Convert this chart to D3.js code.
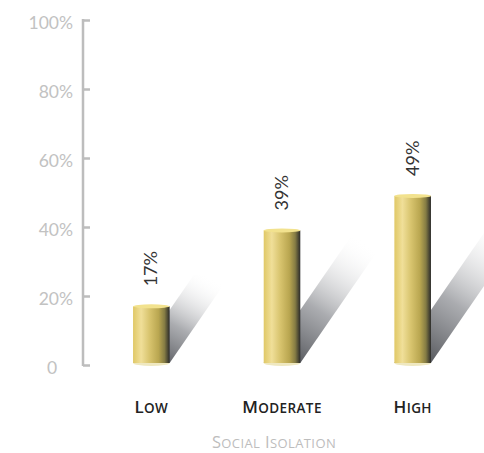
<!DOCTYPE html>
<html>
<head>
<meta charset="utf-8">
<script src="https://cdn.jsdelivr.net/npm/d3@7"></script>
<style>
  body { margin: 0; background: #fff; }
  svg { display: block; font-family: Lato, "Open Sans", sans-serif; }
</style>
</head>
<body>
<svg width="484" height="453"></svg>
<script>
// data
var categories = ["Low", "Moderate", "High"];
var values = [17, 39, 49];
var yTicks = [0, 20, 40, 60, 80, 100];
var axisTitle = "Social Isolation";

var svg = d3.select("svg");

var y = d3.scaleLinear().domain([0, 100]).range([365, 20]);
var x = d3.scaleBand().domain(categories).range([86, 478]).paddingInner(0.72).paddingOuter(0.36);

var barW = x.bandwidth();
var defs = svg.append("defs");

// cylinder body gradient
var body = defs.append("linearGradient").attr("id", "body")
    .attr("x1", 0).attr("x2", 1).attr("y1", 0).attr("y2", 0);
[["0%", "#e0c866"], ["22%", "#f0df99"], ["45%", "#d8c46e"], ["70%", "#b9a650"], ["86%", "#857c44"], ["100%", "#2a2a2a"]]
  .forEach(function(s) { body.append("stop").attr("offset", s[0]).attr("stop-color", s[1]); });

var shadow = defs.append("linearGradient").attr("id", "shadow")
    .attr("x1", 0.1).attr("y1", 1).attr("x2", 0.75).attr("y2", 0);
[["0%", "#44464b", 1], ["45%", "#8e9095", 0.75], ["100%", "#ffffff", 0]]
  .forEach(function(s) {
    shadow.append("stop").attr("offset", s[0]).attr("stop-color", s[1]).attr("stop-opacity", s[2]);
  });

var data = categories.map(function(c, i) { return {cat: c, value: values[i]}; });
var base = y(0) - 2;

// small caps by hand: big first letter of each word, smaller capitals after
function smallCaps(sel, big, small) {
  sel.each(function(d) {
    var t = d3.select(this), words = t.datum().split(" ");
    words.forEach(function(w, i) {
      t.append("tspan").style("font-size", big + "px").text((i ? " " : "") + w[0].toUpperCase());
      t.append("tspan").style("font-size", small + "px").text(w.slice(1).toUpperCase());
    });
  });
}

// shadows cast up and to the right
svg.append("g").selectAll("polygon")
  .data(data)
  .enter().append("polygon")
    .attr("fill", "url(#shadow)")
    .attr("points", function(d) {
      var x0 = x(d.cat), x1 = x0 + barW;
      var dy = 0.5 * (base - y(d.value)) + 60, dx = dy / 1.45;
      return [[x0, base], [x1, base], [x1 + dx, base - dy], [x0 + dx, base - dy]].join(" ");
    });

// y axis
var axis = svg.append("g")
    .attr("transform", "translate(83,0)")
    .call(d3.axisRight(y).tickValues(yTicks).tickSize(7).tickFormat(""));
axis.select(".domain").remove();
axis.selectAll("line").attr("stroke", "#bdbdbd").attr("stroke-width", 2.5);
axis.append("line")
    .attr("y1", y(100) - 1).attr("y2", y(0) + 1)
    .attr("stroke", "#bdbdbd").attr("stroke-width", 2.5);

svg.append("g").selectAll("text")
  .data(yTicks)
  .enter().append("text")
    .attr("x", function(d) { return d === 0 ? 52 : 73; })
    .attr("y", function(d) { return y(d) + 9; })
    .attr("text-anchor", function(d) { return d === 0 ? "middle" : "end"; })
    .attr("fill", "#c2c2c2")
    .style("font-size", "17.5px")
    .text(function(d) { return d === 0 ? "0" : d + "%"; });

// cylinders
var bars = svg.append("g").selectAll("g")
  .data(data)
  .enter().append("g");

bars.append("ellipse")
    .attr("cx", function(d) { return x(d.cat) + barW / 2; })
    .attr("cy", base)
    .attr("rx", barW / 2).attr("ry", 3)
    .attr("fill", "#efe8c0");

bars.append("rect")
    .attr("x", function(d) { return x(d.cat); })
    .attr("y", function(d) { return y(d.value); })
    .attr("width", barW)
    .attr("height", function(d) { return base - y(d.value); })
    .attr("fill", "url(#body)");

bars.append("ellipse")
    .attr("cx", function(d) { return x(d.cat) + barW / 2; })
    .attr("cy", function(d) { return y(d.value); })
    .attr("rx", barW / 2).attr("ry", 2)
    .attr("fill", "#f2e28e");

// value labels, rotated
bars.append("text")
    .attr("transform", function(d) {
      return "translate(" + (x(d.cat) + barW / 2 + 6) + "," + (y(d.value) - 20) + ") rotate(-90)";
    })
    .attr("fill", "#333")
    .style("font-size", "18px")
    .text(function(d) { return d.value + "%"; });

// category labels
svg.append("g").selectAll("text")
  .data(categories)
  .enter().append("text")
    .attr("x", function(d) { return x(d) + barW / 2; })
    .attr("y", 413)
    .attr("text-anchor", "middle")
    .attr("fill", "#222")
    .style("font-family", "'Open Sans', sans-serif")
    .style("font-weight", 600)
    .style("letter-spacing", "0.4px")
    .call(smallCaps, 17, 13.5);

svg.append("g").selectAll("text")
  .data([axisTitle])
  .enter().append("text")
    .attr("x", 274)
    .attr("y", 448)
    .attr("text-anchor", "middle")
    .attr("fill", "#bdbdbd")
    .style("font-family", "'Open Sans', sans-serif")
    .style("letter-spacing", "0.4px")
    .call(smallCaps, 16.5, 13);
</script>
</body>
</html>
